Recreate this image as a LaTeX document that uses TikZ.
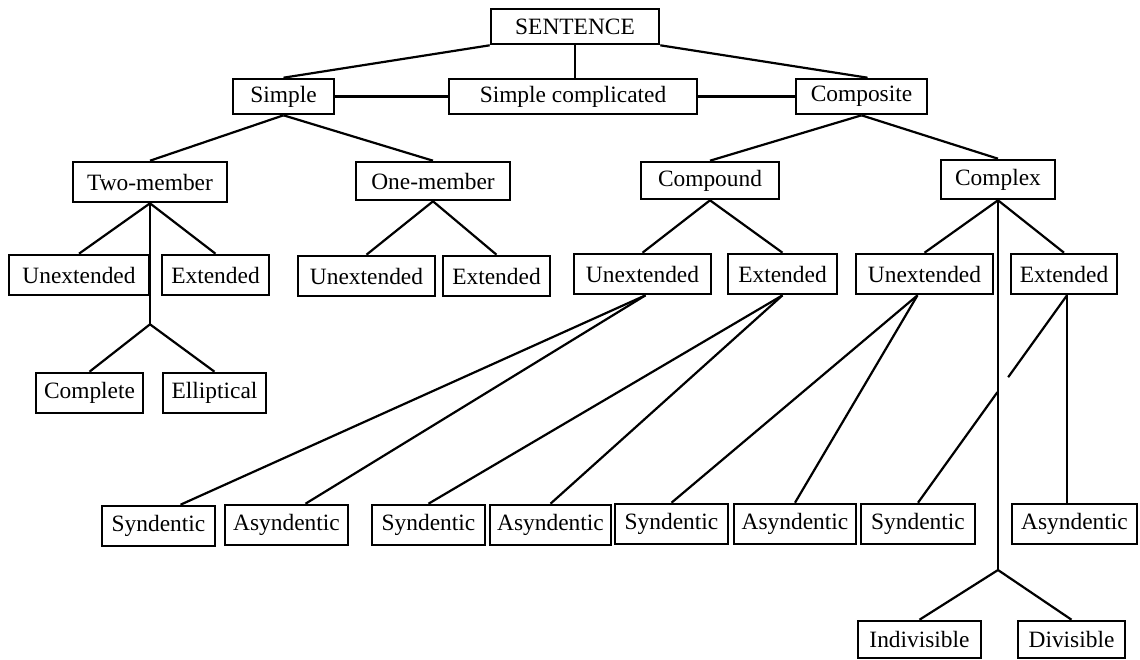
\documentclass[tikz,border=0pt]{standalone}
\usepackage{fontspec}
\setmainfont{Liberation Serif}
\usetikzlibrary{calc}
\begin{document}
\begin{tikzpicture}[x=0.5pt,y=-0.5pt,
  box/.style={draw, line width=1.3pt, inner sep=0pt, minimum height=#1,
    font=\fontsize{11.7}{13}\selectfont},
  box/.default=20pt,
  link/.style={line width=1.1pt}]
\useasboundingbox (0,0) rectangle (1140,659);

% top level
\node[box=17.5pt, minimum width=84pt]  (sent)  at (575,26.5) {SENTENCE};
\node[box=17.5pt, minimum width=50.5pt] (simple) at (283.5,96.5) {Simple};
\node[box=17.5pt, minimum width=124pt] (scomp) at (573,96.5) {Simple complicated};
\node[box=17.5pt, minimum width=65.5pt]  (compo) at (861.5,96.5) {Composite};

% second level
\node[box=20pt, minimum width=77pt]   (two)   at (150,182) {Two-member};
\node[box=19pt, minimum width=77pt]   (one)   at (433,181) {One-member};
\node[box=18.5pt, minimum width=69pt] (cpd)   at (710,180.5) {Compound};
\node[box=19.5pt, minimum width=57pt] (cpx)   at (998,179.5) {Complex};

% third level
\node[box, minimum width=70pt]   (u1) at (79,275) {Unextended};
\node[box, minimum width=53.5pt] (e1) at (215.5,275) {Extended};
\node[box, minimum width=68.5pt] (u2) at (366.5,276) {Unextended};
\node[box, minimum width=53.5pt] (e2) at (496.5,276) {Extended};
\node[box, minimum width=68.5pt] (u3) at (642.5,274) {Unextended};
\node[box, minimum width=54.5pt] (e3) at (782.5,274) {Extended};
\node[box, minimum width=68.5pt] (u4) at (924.5,274) {Unextended};
\node[box, minimum width=53pt]   (e4) at (1064,274) {Extended};

\node[box, minimum width=53.5pt] (cpl) at (89.5,393) {Complete};
\node[box, minimum width=51.5pt] (ell) at (214.5,393) {Elliptical};

% bottom row
\node[box, minimum width=56.5pt] (s1) at (158.5,526) {Syndentic};
\node[box, minimum width=61.5pt] (a1) at (286.5,525) {Asyndentic};
\node[box, minimum width=56.5pt] (s2) at (428.5,525) {Syndentic};
\node[box, minimum width=60.5pt] (a2) at (550.5,525) {Asyndentic};
\node[box, minimum width=56.5pt] (s3) at (671.5,524) {Syndentic};
\node[box, minimum width=61pt]   (a3) at (795,524) {Asyndentic};
\node[box, minimum width=57pt]   (s4) at (918,524) {Syndentic};
\node[box, minimum width=62.5pt] (a4) at (1074.5,524) {Asyndentic};

\node[box=18.5pt, minimum width=61.5pt] (ind) at (919.5,639.5) {Indivisible};
\node[box=18.5pt, minimum width=53.5pt] (div) at (1071.5,639.5) {Divisible};

% junction points
\coordinate (j1) at ($(two.south)+(0,121)$);
\coordinate (j2) at (cpx.south |- 0,570);

% connectors
\draw[link] (sent.south west) -- (simple.north);
\draw[link] (sent.south) -- (sent.south |- scomp.north);
\draw[link] (sent.south east) -- ($(compo.north)+(6,0)$);
\draw[link] (simple.east) -- (scomp.west);
\draw[link] (scomp.east) -- (compo.west);

\draw[link] (simple.south) -- (two.north);
\draw[link] (simple.south) -- (one.north);
\draw[link] (compo.south) -- (cpd.north);
\draw[link] (compo.south) -- (cpx.north);

\draw[link] (two.south) -- (u1.north);
\draw[link] (two.south) -- (e1.north);
\draw[link] (two.south) -- (j1);
\draw[link] (j1) -- (cpl.north);
\draw[link] (j1) -- (ell.north);

\draw[link] (one.south) -- (u2.north);
\draw[link] (one.south) -- (e2.north);

\draw[link] (cpd.south) -- (u3.north);
\draw[link] (cpd.south) -- (e3.north);

\draw[link] (cpx.south) -- (u4.north);
\draw[link] (cpx.south) -- (e4.north);
\draw[link] (cpx.south) -- (j2);
\draw[link] (j2) -- (ind.north);
\draw[link] (j2) -- (div.north);

\draw[link] ($(u3.south)+(3,0)$) -- ($(s1.north)+(22,0)$);
\draw[link] ($(u3.south)+(3,0)$) -- ($(a1.north)+(19,0)$);
\draw[link] (e3.south) -- (s2.north);
\draw[link] (e3.south) -- (a2.north);
\draw[link] ($(u4.south)+(-7,0)$) -- (s3.north);
\draw[link] ($(u4.south)+(-7,0)$) -- (a3.north);

% Extended -> Asyndentic, straight down
\coordinate (e4b) at ($(e4.south)+(3,0)$);
\draw[link] (e4b) -- (e4b |- a4.north);
% Extended -> Syndentic, broken where it passes the Complex line
\draw[link] (e4b) -- ($(e4b)!0.395!(s4.north)$);
\draw[link] ($(e4b)!0.467!(s4.north)$) -- (s4.north);
\end{tikzpicture}
\end{document}
